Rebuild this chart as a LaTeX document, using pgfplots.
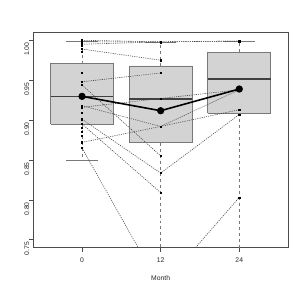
\documentclass[border=0pt]{standalone}
\usepackage{pgfplots}
\pgfplotsset{compat=1.18}
\usepackage{fontspec}
\setmainfont{Liberation Sans}
\definecolor{boxfill}{RGB}{211,211,211}
\definecolor{boxline}{RGB}{120,120,120}
\begin{document}
\begin{tikzpicture}
\begin{axis}[name=ax, scale only axis, width=254.7bp, height=215.4bp,
  xmin=-7.44, xmax=31.44, ymin=0.74, ymax=1.01,
  axis line style={black!70, line width=0.6bp},
  xtick={0,12,24}, xticklabels={0,12,24},
  ytick={0.75,0.80,0.85,0.90,0.95,1.00},
  yticklabels={0.75,0.80,0.85,0.90,0.95,1.00},
  xtick pos=left, ytick pos=left, tick align=outside,
  major tick length=4bp, tick style={black!70, line width=0.5bp},
  ticklabel style={font=\fontsize{6.8}{8}\selectfont, text=black!85},
  yticklabel style={rotate=90, anchor=south, inner sep=0pt, xshift=-9bp},
  xticklabel style={anchor=north, inner sep=0pt, yshift=-6bp},
  xlabel={Month}, xlabel style={font=\fontsize{6.8}{8}\selectfont, text=black!85, inner sep=0pt, yshift=-13bp},
]
% boxes
\pgfplotsset{bx/.style={fill=boxfill, draw=boxline, line width=0.8bp, line join=miter},
  md/.style={black!75, line width=1.5bp},
  wh/.style={boxline, dashed, line width=0.5bp},
  st/.style={boxline, line width=0.7bp}}
\addplot[bx] coordinates {(-4.8,0.8946)(4.8,0.8946)(4.8,0.9706)(-4.8,0.9706)(-4.8,0.8946)};
\addplot[bx] coordinates {(7.2,0.8715)(16.8,0.8715)(16.8,0.9678)(7.2,0.9678)(7.2,0.8715)};
\addplot[bx] coordinates {(19.2,0.9088)(28.8,0.9088)(28.8,0.985)(19.2,0.985)(19.2,0.9088)};
\addplot[md] coordinates {(-4.8,0.9293)(4.8,0.9293)};
\addplot[md] coordinates {(7.2,0.9264)(16.8,0.9264)};
\addplot[md] coordinates {(19.2,0.9514)(28.8,0.9514)};
\addplot[wh] coordinates {(0,0.9706)(0,0.999)};
\addplot[wh] coordinates {(0,0.8946)(0,0.850)};
\addplot[wh] coordinates {(12,0.9678)(12,0.998)};
\addplot[wh] coordinates {(12,0.8715)(12,0.690)};
\addplot[wh] coordinates {(24,0.985)(24,0.999)};
\addplot[wh] coordinates {(24,0.9088)(24,0.700)};
\addplot[st] coordinates {(-2.4,0.999)(2.4,0.999)};
\addplot[st] coordinates {(-2.4,0.850)(2.4,0.850)};
\addplot[st] coordinates {(9.6,0.998)(14.4,0.998)};
\addplot[st] coordinates {(21.6,0.999)(26.4,0.999)};

% subject trajectories
\pgfplotsset{subj/.style={black!70, dash pattern=on 1.1bp off 1.1bp, line width=0.6bp, mark=square*, mark size=0.6bp, mark options={solid, black}}}
\addplot[subj] coordinates {(0,1.000)(12,0.998)(24,0.999)};
\addplot[subj] coordinates {(0,0.998)(12,0.998)(24,0.999)};
\addplot[subj] coordinates {(0,0.995)(12,0.998)};
\addplot[subj] coordinates {(0,0.989)(12,0.975)};
\addplot[subj] coordinates {(0,0.948)(12,0.959)};
\addplot[subj] coordinates {(0,0.944)(12,0.855)};
\addplot[subj] coordinates {(0,0.918)(12,0.892)(24,0.913)};
\addplot[subj] coordinates {(0,0.916)(12,0.927)(24,0.938)};
\addplot[subj] coordinates {(0,0.872)(12,0.892)(24,0.938)};
\addplot[subj] coordinates {(0,0.901)(12,0.8335)(24,0.907)};
\addplot[subj] coordinates {(0,0.895)(12,0.809)};
\addplot[subj, mark=none] coordinates {(0,0.865)(12,0.690)(24,0.803)};
% other observed points
\addplot[only marks, mark=square*, mark size=0.6bp, black] coordinates {
 (0,0.999)(0,0.997)(0,0.993)(0,0.986)(0,0.959)(0,0.909)(0,0.890)(0,0.885)(0,0.880)(0,0.865)
 (12,0.997)(24,0.998)(24,0.803)};

% mean line
\addplot[black, line width=1.6bp, mark=*, mark size=2.8bp] coordinates {(0,0.9297)(12,0.9117)(24,0.9389)};
\end{axis}
\pgfresetboundingbox
\path[use as bounding box] ([xshift=-33.3bp,yshift=-41.3bp]ax.south west) rectangle ([xshift=17bp,yshift=32.3bp]ax.north east);
\end{tikzpicture}
\end{document}
